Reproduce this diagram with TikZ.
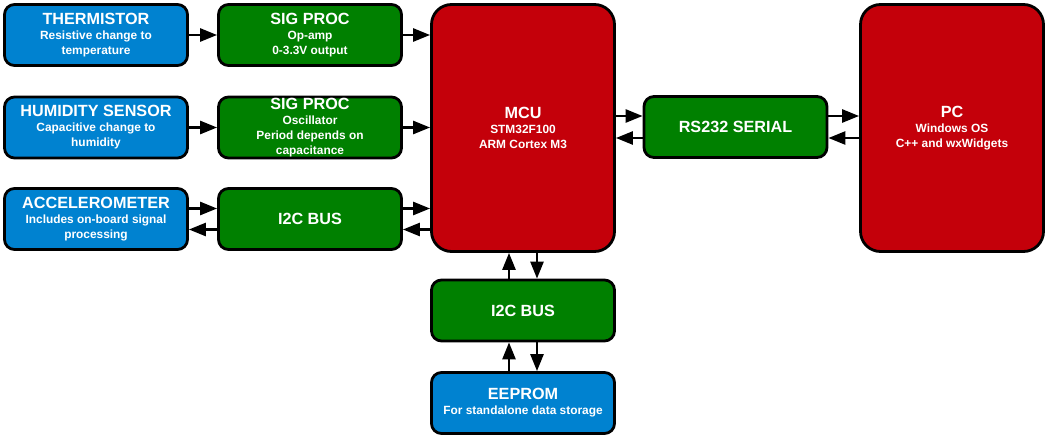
\documentclass[tikz,border=0pt]{standalone}
\usepackage{fontspec}
\setmainfont{Liberation Sans}
\usetikzlibrary{arrows.meta}
\definecolor{cblue}{RGB}{0,130,208}
\definecolor{cgreen}{RGB}{0,128,0}
\definecolor{cred}{RGB}{196,0,10}
\newcommand\ttl[1]{{\fontsize{16.2}{18}\selectfont #1}}
\tikzset{
  blk/.style={draw=black, line width=2.8pt, rounded corners=10pt, text=white,
    align=center, inner sep=0pt, font=\bfseries\fontsize{11.9}{15}\selectfont,
    minimum width=183pt, minimum height=61pt},
  bluebox/.style={blk, fill=cblue},
  greenbox/.style={blk, fill=cgreen},
  bigbox/.style={blk, fill=cred, rounded corners=20pt, minimum height=247pt},
  arr/.style={line width=2.6pt, -{Triangle[length=17pt,width=13pt]}}
}
\begin{document}
\begin{tikzpicture}[x=1pt,y=-1pt]
\useasboundingbox (0,0) rectangle (1049,441);
% left column
\node[bluebox] (therm) at (96,35) {\ttl{THERMISTOR}\\Resistive change to\\temperature};
\node[bluebox] (hum) at (96,127.5) {\ttl{HUMIDITY SENSOR}\\Capacitive change to\\humidity};
\node[bluebox] (acc) at (96,219) {\ttl{ACCELEROMETER}\\Includes on-board signal\\processing};
% second column
\node[greenbox] (sp1) at (310,35) {\ttl{SIG PROC}\\Op-amp\\0-3.3V output};
\node[greenbox] (sp2) at (310,127.5) {\ttl{SIG PROC}\\Oscillator\\Period depends on\\capacitance};
\node[greenbox] (i2ca) at (310,219) {\ttl{I2C BUS}};
% MCU and PC
\node[bigbox] (mcu) at (523,128) {\ttl{MCU}\\STM32F100\\ARM Cortex M3};
\node[bigbox] (pc) at (952,128) {\ttl{PC}\\Windows OS\\C++ and wxWidgets};
\node[greenbox] (rs) at (735.5,127) {\ttl{RS232 SERIAL}};
% bottom
\node[greenbox] (i2cb) at (523,310.5) {\ttl{I2C BUS}};
\node[bluebox] (eep) at (523,403) {\ttl{EEPROM}\\For standalone data storage};

% connectors
\draw[arr] (therm) -- (sp1);
\draw[arr] (hum) -- (sp2);
\draw[arr] ([yshift=10.5pt]acc.east) -- ([yshift=10.5pt]i2ca.west);
\draw[arr] ([yshift=-10.5pt]i2ca.west) -- ([yshift=-10.5pt]acc.east);

\coordinate (a1) at (sp1.east);
\draw[arr] (a1) -- (a1 -| mcu.west);
\coordinate (a2) at (sp2.east);
\draw[arr] (a2) -- (a2 -| mcu.west);
\coordinate (a3) at ([yshift=10.5pt]i2ca.east);
\draw[arr] (a3) -- (a3 -| mcu.west);
\coordinate (a4) at ([yshift=-10.5pt]i2ca.east);
\draw[arr] (a4 -| mcu.west) -- (a4);

\coordinate (r1) at ([yshift=11pt]rs.west);
\draw[arr] (r1 -| mcu.east) -- (r1);
\coordinate (r2) at ([yshift=-11pt]rs.west);
\draw[arr] (r2) -- (r2 -| mcu.east);
\coordinate (r3) at ([yshift=11pt]rs.east);
\draw[arr] (r3) -- (r3 -| pc.west);
\coordinate (r4) at ([yshift=-11pt]rs.east);
\draw[arr] (r4 -| pc.west) -- (r4);

\coordinate (v1) at ([xshift=-14pt]i2cb.north);
\draw[arr] (v1) -- (v1 |- mcu.south);
\coordinate (v2) at ([xshift=14pt]mcu.south);
\draw[arr] (v2) -- (v2 |- i2cb.north);
\coordinate (v3) at ([xshift=-14pt]eep.north);
\draw[arr] (v3) -- (v3 |- i2cb.south);
\coordinate (v4) at ([xshift=14pt]i2cb.south);
\draw[arr] (v4) -- (v4 |- eep.north);
\end{tikzpicture}
\end{document}
